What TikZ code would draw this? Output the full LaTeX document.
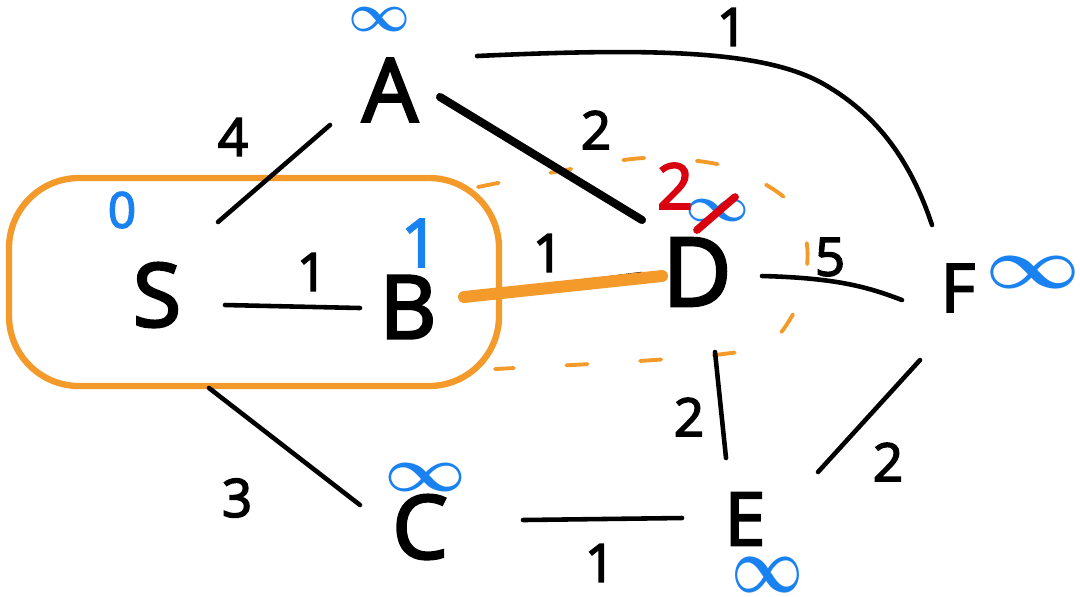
\documentclass[tikz,border=0pt]{standalone}
\usepackage{fontspec}
\setmainfont{Open Sans}
\newfontfamily\hand[FakeBold=3]{Open Sans}
\usetikzlibrary{calc}
\definecolor{hlorange}{HTML}{F39A2B}
\definecolor{distblue}{HTML}{1A82F0}
\definecolor{fixred}{HTML}{D9000F}
\newcommand\infglyph[2]{\resizebox{#1}{#2}{\boldmath$\infty$}}
\begin{document}
\begin{tikzpicture}[x=0.01cm,y=-0.01cm,
  vertex/.style={inner sep=0pt, font=\hand\fontsize{25}{27}\selectfont},
  edge/.style={line width=1.3pt, line cap=round},
  wt/.style={font=\hand\fontsize{15}{17}\selectfont, inner sep=0pt},
  dist/.style={text=distblue, inner sep=0pt},
  distnum/.style={text=distblue, inner sep=0pt, font=\hand\fontsize{19}{21}\selectfont},
  blob/.style={draw=hlorange, line width=1.8pt, line cap=round},
  dashblob/.style={draw=hlorange, line width=1.1pt, line cap=round, dash pattern=on 6pt off 15pt}]
\useasboundingbox (0,0) rectangle (1080,596);
% vertices
\node[vertex] (S) at (157,295) {S};
\node[vertex] (B) at (408,307) {B};
\node[vertex, font=\hand\fontsize{27}{29}\selectfont] (D) at (697,272) {D};
\node[vertex] (A) at (390,90) {A};
\node[vertex, font=\hand\fontsize{19}{21}\selectfont] (F) at (958,288) {F};
\node[vertex] (C) at (420,527) {C};
\node[vertex, font=\hand\fontsize{21}{23}\selectfont] (E) at (745,519) {E};
% orange regions
\draw[blob, rounded corners=0.7cm] (9,178) rectangle (499,386);
\draw[dashblob] plot[smooth] coordinates {(478,187) (560,171) (645,158) (725,166) (785,198) (806,240) (806,275) (798,305) (770,343) (715,355) (607,363) (495,369)};
% edges
\draw[edge] ($(S)+(68,10)$) -- ($(B)+(-48,1)$);
\draw[edge] ($(S)+(61,-73)$) -- ($(A)+(-60,35)$);
\draw[edge, line width=2.3pt] ($(A)+(50,7)$) -- ($(D)+(-55,-52)$);
\draw[edge] ($(A)+(87,-34)$) .. controls (650,48) and (760,50) .. (820,82) .. controls (880,115) and (912,165) .. ($(F)+(-26,-63)$);
\draw[edge] ($(B)+(62,-11)$) -- ($(D)+(-55,2)$);
\draw[hlorange, line width=3.4pt, line cap=round] ($(B)+(56,-10)$) -- ($(D)+(-35,4)$);
\draw[edge] ($(D)+(65,4)$) .. controls (840,278) and (870,288) .. ($(F)+(-56,12)$);
\draw[edge] ($(S)+(52,93)$) -- ($(C)+(-60,-22)$);
\draw[edge] ($(C)+(103,-7)$) -- ($(E)+(-63,-1)$);
\draw[edge] ($(D)+(18,80)$) -- ($(E)+(-19,-61)$);
\draw[edge] ($(F)+(-38,72)$) -- ($(E)+(73,-47)$);
% weights
\node[wt] (wSB) at (312,272) {1};
\node[wt] (wSA) at (233,137) {4};
\node[wt] (wAD) at (596,130) {2};
\node[wt] (wAF) at (732,27) {1};
\node[wt] (wBD) at (548,253) {1};
\node[wt] (wDF) at (830,257) {5};
\node[wt] (wSC) at (237,498) {3};
\node[wt] (wCE) at (600,563) {1};
\node[wt] (wDE) at (689,417) {2};
\node[wt] (wFE) at (888,462) {2};
% distances
\node[dist] (dA) at (380,19) {\infglyph{0.62cm}{0.24cm}};
\node[distnum, font=\hand\fontsize{14}{16}\selectfont] (dS) at (122,210) {0};
\node[distnum] (dB) at (420,243) {1};
\node[dist] (dC) at (426,477) {\infglyph{0.82cm}{0.28cm}};
\node[dist] (dE) at (768,575) {\infglyph{0.72cm}{0.35cm}};
\node[dist] (dF) at (1033,272) {\infglyph{0.95cm}{0.32cm}};
\node[dist] (dD) at (718,210) {\infglyph{0.64cm}{0.22cm}};
\node[text=fixred, inner sep=0pt, font=\hand\fontsize{18}{20}\selectfont] (dD2) at (675,186) {2};
\coordinate (slA) at ($(dD)+(-21,20)$);
\coordinate (slB) at ($(dD)+(17,-13)$);
\draw[fixred, line width=2.2pt, line cap=round] (slA) -- (slB);
\end{tikzpicture}
\end{document}
